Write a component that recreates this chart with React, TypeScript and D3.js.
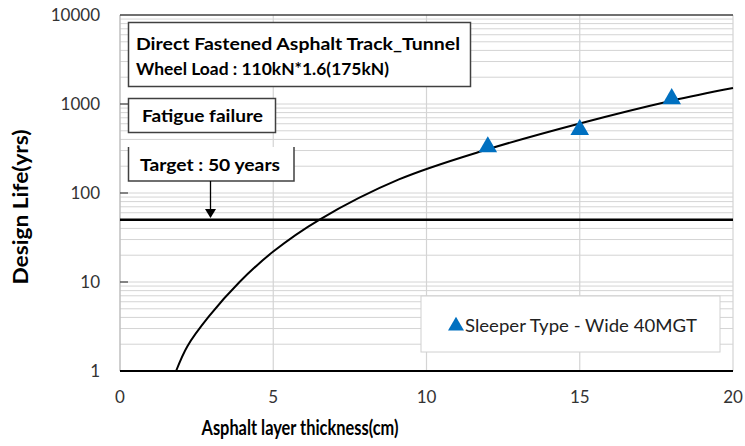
import React, { useRef, useEffect } from 'react';
import * as d3 from 'd3';

// fatigue curve
const curveThickness = [1.83, 2.2, 2.9, 3.9, 5, 6.5, 9.1, 12, 15, 18, 20];
const curveLife = [1, 1.9, 4.1, 10, 22, 50, 142, 310, 605, 1090, 1510];

// measured points (Sleeper Type - Wide 40MGT)
const pointThickness = [12, 15, 18];
const pointLife = [329, 514, 1145];

const targetLife = 50;
const xTicks = [0, 5, 10, 15, 20];
const yTicks = [1, 10, 100, 1000, 10000];

const App = () => {
  const svgRef = useRef(null);
  const W = 745;
  const H = 446;
  const margin = { top: 15, right: 12, bottom: 75, left: 120 };

  useEffect(() => {
    const svg = d3.select(svgRef.current);
    svg.selectAll('*').remove();

    const x = d3.scaleLinear().domain([0, 20]).range([margin.left, W - margin.right]);
    const y = d3.scaleLog().domain([1, 10000]).range([H - margin.bottom, margin.top]);
    const font = 'Lato, "Open Sans", sans-serif';

    svg.append('rect').attr('width', W).attr('height', H).attr('fill', '#fff');

    // minor horizontal gridlines (2..9 in each decade)
    const minor = [];
    for (let d = 1; d < 10000; d *= 10) {
      for (let k = 2; k <= 9; k++) minor.push(d * k);
    }
    svg.append('g').selectAll('line')
      .data(minor.concat([10, 100, 1000]))
      .join('line')
      .attr('x1', x(0)).attr('x2', x(20))
      .attr('y1', d => y(d)).attr('y2', d => y(d))
      .attr('stroke', '#d4d4d4').attr('stroke-width', 1);

    // vertical gridlines
    svg.append('g').selectAll('line')
      .data([5, 10, 15, 20])
      .join('line')
      .attr('x1', d => x(d)).attr('x2', d => x(d))
      .attr('y1', y(1)).attr('y2', y(10000))
      .attr('stroke', '#d4d4d4').attr('stroke-width', 1.2);

    // axes lines
    svg.append('line')
      .attr('x1', x(0)).attr('x2', x(0)).attr('y1', y(1)).attr('y2', y(10000))
      .attr('stroke', '#bfbfbf').attr('stroke-width', 1.5);
    svg.append('line')
      .attr('x1', x(0)).attr('x2', x(20)).attr('y1', y(1)).attr('y2', y(1))
      .attr('stroke', '#000').attr('stroke-width', 1.8);
    svg.append('line')
      .attr('x1', x(0)).attr('x2', x(20)).attr('y1', y(10000)).attr('y2', y(10000))
      .attr('stroke', '#404040').attr('stroke-width', 1.5);

    // decade tick marks on left axis
    svg.append('g').selectAll('line')
      .data([10, 100, 1000])
      .join('line')
      .attr('x1', x(0)).attr('x2', x(0) + 8)
      .attr('y1', d => y(d)).attr('y2', d => y(d))
      .attr('stroke', '#404040').attr('stroke-width', 1.2);

    // tick labels
    svg.append('g').selectAll('text')
      .data(yTicks)
      .join('text')
      .attr('x', 100).attr('y', d => y(d) + 6)
      .attr('text-anchor', 'end')
      .attr('font-family', font).attr('font-size', 17).attr('fill', '#333')
      .text(d => String(d));
    svg.append('g').selectAll('text')
      .data(xTicks)
      .join('text')
      .attr('x', d => x(d)).attr('y', 403)
      .attr('text-anchor', 'middle')
      .attr('font-family', font).attr('font-size', 17).attr('fill', '#333')
      .text(d => String(d));

    // axis titles
    svg.append('text')
      .attr('x', 300).attr('y', 435)
      .attr('text-anchor', 'middle')
      .attr('font-family', font).attr('font-size', 21).attr('font-weight', 'bold')
      .attr('textLength', 197).attr('lengthAdjust', 'spacingAndGlyphs')
      .text('Asphalt layer thickness(cm)');
    svg.append('text')
      .attr('transform', `translate(28,207) rotate(-90)`)
      .attr('text-anchor', 'middle')
      .attr('font-family', font).attr('font-size', 21).attr('font-weight', 'bold')
      .attr('textLength', 155).attr('lengthAdjust', 'spacingAndGlyphs')
      .text('Design Life(yrs)');

    // target line
    svg.append('line')
      .attr('x1', x(0)).attr('x2', x(20))
      .attr('y1', y(targetLife)).attr('y2', y(targetLife))
      .attr('stroke', '#000').attr('stroke-width', 2.5);

    // fatigue curve
    const line = d3.line()
      .x((d, i) => x(curveThickness[i]))
      .y((d, i) => y(curveLife[i]))
      .curve(d3.curveCatmullRom.alpha(0.5));
    svg.append('path')
      .attr('d', line(curveThickness))
      .attr('fill', 'none').attr('stroke', '#000').attr('stroke-width', 2);

    // triangles
    const tri = d3.symbol().type(d3.symbolTriangle).size(150);
    svg.append('g').selectAll('path')
      .data(pointThickness)
      .join('path')
      .attr('d', tri())
      .attr('transform', (d, i) => `translate(${x(d)},${y(pointLife[i])})`)
      .attr('fill', '#0070c0');

    // annotation boxes
    const box1 = svg.append('g');
    box1.append('rect').attr('x', 128.5).attr('y', 22.5).attr('width', 342).attr('height', 64)
      .attr('fill', '#fff').attr('stroke', '#404040').attr('stroke-width', 1.5);
    box1.append('text').attr('x', 136).attr('y', 50)
      .attr('font-family', font).attr('font-size', 17).attr('font-weight', 'bold')
      .attr('textLength', 324).attr('lengthAdjust', 'spacingAndGlyphs')
      .text('Direct Fastened Asphalt Track_Tunnel');
    box1.append('text').attr('x', 136).attr('y', 75)
      .attr('font-family', font).attr('font-size', 17).attr('font-weight', 'bold')
      .attr('textLength', 253).attr('lengthAdjust', 'spacingAndGlyphs')
      .text('Wheel Load : 110kN*1.6(175kN)');

    const box2 = svg.append('g');
    box2.append('rect').attr('x', 128.5).attr('y', 98.5).attr('width', 147).attr('height', 34)
      .attr('fill', '#fff').attr('stroke', '#404040').attr('stroke-width', 1.5);
    box2.append('text').attr('x', 142).attr('y', 121.5)
      .attr('font-family', font).attr('font-size', 17).attr('font-weight', 'bold')
      .attr('textLength', 121).attr('lengthAdjust', 'spacingAndGlyphs')
      .text('Fatigue failure');

    const box3 = svg.append('g');
    box3.append('rect').attr('x', 128.5).attr('y', 147).attr('width', 165.5).attr('height', 34)
      .attr('fill', '#fff');
    box3.append('path')
      .attr('d', 'M128.5,147V181H294V147')
      .attr('fill', 'none').attr('stroke', '#404040').attr('stroke-width', 1.5);
    box3.append('text').attr('x', 140).attr('y', 171)
      .attr('font-family', font).attr('font-size', 17).attr('font-weight', 'bold')
      .attr('textLength', 140).attr('lengthAdjust', 'spacingAndGlyphs')
      .text('Target : 50 years');
    box3.append('line').attr('x1', 210.5).attr('x2', 210.5).attr('y1', 181).attr('y2', 210)
      .attr('stroke', '#000').attr('stroke-width', 1.3);
    box3.append('path').attr('d', 'M205,209L216,209L210.5,218Z').attr('fill', '#000');

    // legend
    const leg = svg.append('g');
    leg.append('rect').attr('x', 421).attr('y', 296).attr('width', 299).attr('height', 56)
      .attr('fill', '#fff').attr('stroke', '#d0d0d0').attr('stroke-width', 1);
    leg.append('path').attr('d', d3.symbol().type(d3.symbolTriangle).size(110)())
      .attr('transform', 'translate(456,326)').attr('fill', '#0070c0');
    leg.append('text').attr('x', 465).attr('y', 332)
      .attr('font-family', font).attr('font-size', 17).attr('fill', '#222')
      .attr('textLength', 232).attr('lengthAdjust', 'spacingAndGlyphs')
      .text('Sleeper Type - Wide 40MGT');
  }, []);

  return (
    <svg ref={svgRef} width={W} height={H} style={{ position: 'absolute', left: 0, top: 0 }}></svg>
  );
};

export default App;
